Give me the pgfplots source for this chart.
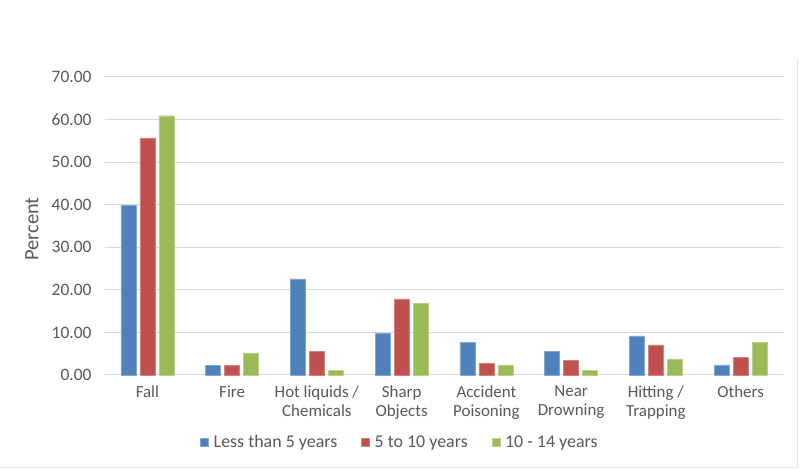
\documentclass[border=0pt]{standalone}
\usepackage{fontspec}
\setmainfont{Carlito}
\usepackage{pgfplots}
\pgfplotsset{compat=1.18}
\definecolor{cblue}{HTML}{4F81BD}
\definecolor{cred}{HTML}{C0504D}
\definecolor{cgreen}{HTML}{9BBB59}
\definecolor{txt}{HTML}{595959}
\definecolor{gridc}{HTML}{D9D9D9}
\begin{document}
\begin{tikzpicture}[x=1bp,y=1bp]
\useasboundingbox (0,0) rectangle (800,470);
\fill[white] (0,0) rectangle (800,470);
\draw[gridc!70!white, line width=1bp] (797.5,412) -- (797.5,2) -- (0,2);
\begin{axis}[
  at={(105bp,95bp)}, anchor=south west,
  scale only axis, width=678bp, height=298bp,
  ybar=4bp, bar width=15bp,
  xmin=-0.5, xmax=7.5, ymin=0, ymax=70,
  xtick=data, xmajorgrids=false,
  xticklabels={Fall,Fire,{Hot liquids /\\Chemicals},{Sharp\\Objects},{Accident\\Poisoning},{Near\\Drowning},{Hitting /\\Trapping},Others},
  xticklabel style={align=center, font=\fontsize{17}{19}\selectfont, text=txt, yshift=-7bp},
  ytick={0,10,...,70},
  yticklabel style={font=\fontsize{17.5}{19}\selectfont, text=txt, xshift=-10bp},
  /pgf/number format/.cd, fixed, zerofill, precision=2, assume math mode=true, /pgfplots/.cd,
  ymajorgrids, grid style={gridc, line width=1bp},
  axis line style={draw=none},
  major tick length=0pt,
  clip=false,
  ylabel={Percent},
  ylabel style={font=\fontsize{20.5}{22}\selectfont, text=txt, at={(axis description cs:-0.108,0.49)}, anchor=center},
  legend columns=3,
  legend style={at={(0.435,-0.225)}, anchor=center, draw=none, font=\fontsize{18}{20}\selectfont, text=txt,
    /tikz/every odd column/.append style={column sep=3bp},
    /tikz/every even column/.append style={column sep=22bp}},
  legend image code/.code={\fill[#1] (0bp,-4bp) rectangle (8bp,4bp);},
]
\addplot[fill=cblue, draw=cblue!70!white] coordinates {(0,39.8) (1,2.2) (2,22.6) (3,9.9) (4,7.6) (5,5.6) (6,9.2) (7,2.35)};
\addplot[fill=cred, draw=cred!70!white] coordinates {(0,55.7) (1,2.2) (2,5.6) (3,17.9) (4,2.8) (5,3.45) (6,7.1) (7,4.1)};
\addplot[fill=cgreen, draw=cgreen!70!white] coordinates {(0,60.9) (1,5.2) (2,1.1) (3,16.8) (4,2.35) (5,1.1) (6,3.8) (7,7.6)};
\legend{Less than 5 years, 5 to 10 years, 10 - 14 years}
\end{axis}
\end{tikzpicture}
\end{document}
